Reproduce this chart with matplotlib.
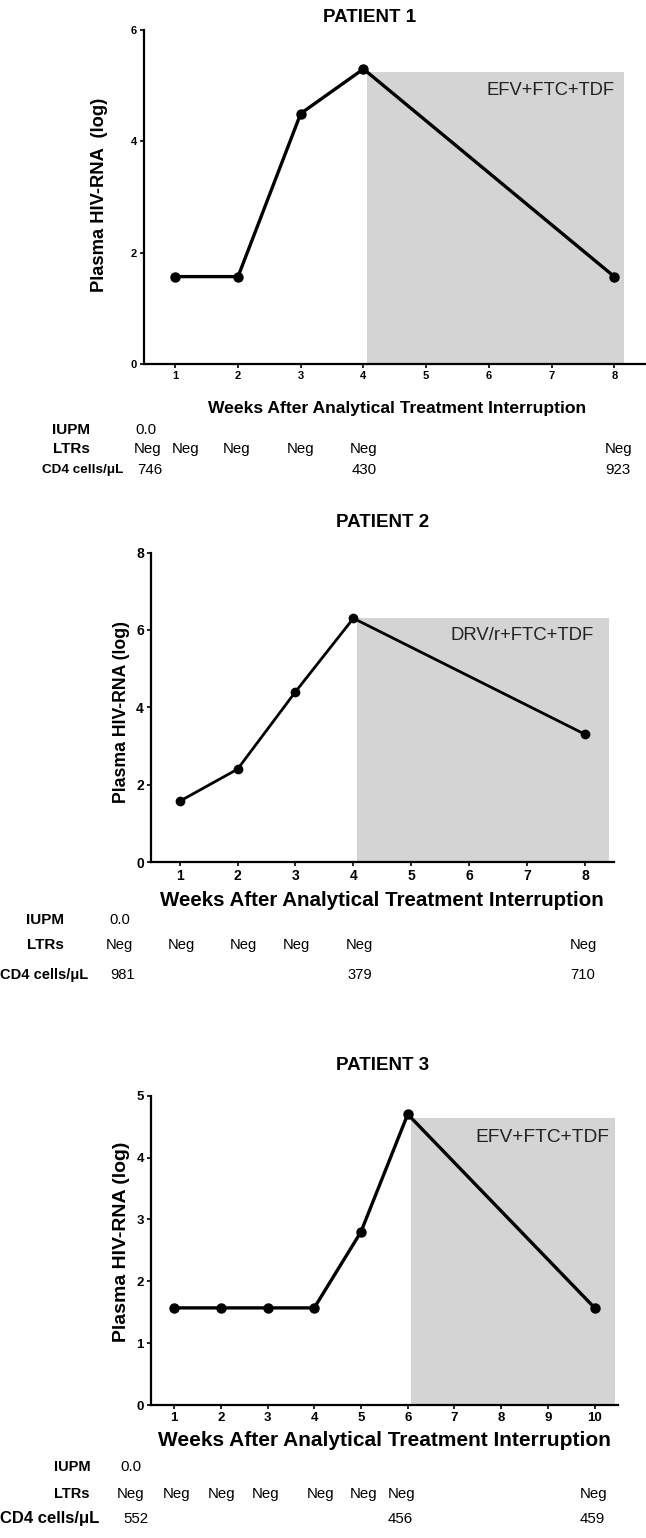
import matplotlib
matplotlib.use("Agg")
import matplotlib.pyplot as plt

plt.rcParams['font.family'] = ['Liberation Sans', 'DejaVu Sans']

# ---------------- data ----------------
p1_weeks = ['1', '2', '3', '4', '5', '6', '7', '8']
p1_obs_weeks = ['1', '2', '3', '4', '8']
p1_rna = [1.57, 1.57, 4.5, 5.3, 1.57]
p1_shade = [3.06, 7.16]
p1_shade_top = 5.25
p1_regimen = 'EFV+FTC+TDF'
p1_iupm = ['0.0']
p1_ltrs = ['Neg', 'Neg', 'Neg', 'Neg', 'Neg', 'Neg']
p1_cd4 = ['746', '430', '923']

p2_weeks = ['1', '2', '3', '4', '5', '6', '7', '8']
p2_obs_weeks = ['1', '2', '3', '4', '8']
p2_rna = [1.57, 2.4, 4.4, 6.3, 3.3]
p2_shade = [3.06, 7.42]
p2_shade_top = 6.31
p2_regimen = 'DRV/r+FTC+TDF'
p2_iupm = ['0.0']
p2_ltrs = ['Neg', 'Neg', 'Neg', 'Neg', 'Neg', 'Neg']
p2_cd4 = ['981', '379', '710']

p3_weeks = ['1', '2', '3', '4', '5', '6', '7', '8', '9', '10']
p3_obs_weeks = ['1', '2', '3', '4', '5', '6', '10']
p3_rna = [1.57, 1.57, 1.57, 1.57, 2.8, 4.7, 1.57]
p3_shade = [5.07, 9.43]
p3_shade_top = 4.64
p3_regimen = 'EFV+FTC+TDF'
p3_iupm = ['0.0']
p3_ltrs = ['Neg', 'Neg', 'Neg', 'Neg', 'Neg', 'Neg', 'Neg', 'Neg']
p3_cd4 = ['552', '456', '459']

titles = ['PATIENT 1', 'PATIENT 2', 'PATIENT 3']
ylabels = ['Plasma HIV-RNA  (log)', 'Plasma HIV-RNA (log)', 'Plasma HIV-RNA (log)']
xlabel = 'Weeks After Analytical Treatment Interruption'
row_labels = ['IUPM', 'LTRs', 'CD4 cells/\u03bcL']

# ---------------- layout (pixels) ----------------
W, H = 646, 1538
fig = plt.figure(figsize=(W / 100, H / 100), dpi=100)


def pt(px):
    return px * 72 / 100


def ftext(x, y, s, **kw):
    return fig.text(x / W, 1 - y / H, s, **kw)


panels = [
    dict(weeks=p1_weeks, obs=p1_obs_weeks, rna=p1_rna, shade=p1_shade, shade_top=p1_shade_top,
         regimen=p1_regimen, iupm=p1_iupm, ltrs=p1_ltrs, cd4=p1_cd4, title=titles[0], ylabel=ylabels[0],
         ax=(144, 30, 645.6, 364), ymax=6, ystep=2, tick_fs=8, lw=2.4, ms=6.5,
         title_xy=(370, 17), ylab_xy=(100, 195), ylab_fs=13.2, xlab_xy=(397, 409), xlab_fs=12.6,
         reg_xy=(7.0, 4.92), reg_fs=13.2,
         lab_x=71, cd4lab_x=42, lab_fs=11, cd4lab_fs=9.7, val_fs=10.8,
         rows_y=(430, 449, 470), iupm_x=[135], ltr_x=[134, 172, 223, 287, 350, 605], cd4_x=[137, 352, 605]),
    dict(weeks=p2_weeks, obs=p2_obs_weeks, rna=p2_rna, shade=p2_shade, shade_top=p2_shade_top,
         regimen=p2_regimen, iupm=p2_iupm, ltrs=p2_ltrs, cd4=p2_cd4, title=titles[1], ylabel=ylabels[1],
         ax=(150.7, 552.5, 614, 862), ymax=8, ystep=2, tick_fs=10, lw=2.0, ms=6,
         title_xy=(383, 523), ylab_xy=(122, 712), ylab_fs=12.7, xlab_xy=(382, 900), xlab_fs=14.8,
         reg_xy=(7.15, 5.85), reg_fs=13.3,
         lab_x=45, cd4lab_x=0, lab_fs=11, cd4lab_fs=10.5, val_fs=10.6,
         rows_y=(920, 945, 975), iupm_x=[109], ltr_x=[106, 168, 230, 283, 346, 570], cd4_x=[110, 347, 570]),
    dict(weeks=p3_weeks, obs=p3_obs_weeks, rna=p3_rna, shade=p3_shade, shade_top=p3_shade_top,
         regimen=p3_regimen, iupm=p3_iupm, ltrs=p3_ltrs, cd4=p3_cd4, title=titles[2], ylabel=ylabels[2],
         ax=(150.7, 1095.7, 618, 1405), ymax=5, ystep=1, tick_fs=9.5, lw=2.4, ms=6.5,
         title_xy=(383, 1066), ylab_xy=(122, 1242), ylab_fs=14, xlab_xy=(384, 1441), xlab_fs=15,
         reg_xy=(9.31, 4.33), reg_fs=13.8,
         lab_x=72, cd4lab_x=0, lab_fs=10.5, cd4lab_fs=12, val_fs=10.8,
         rows_y=(1467, 1494, 1519), iupm_x=[120], ltr_x=[117, 163, 208, 252, 307, 350, 388, 580],
         cd4_x=[123, 388, 580]),
]

for p in panels:
    l, t, r, b = p['ax']
    ax = fig.add_axes([l / W, 1 - b / H, (r - l) / W, (b - t) / H])
    n = len(p['weeks'])
    xi = [p['weeks'].index(w) for w in p['obs']]
    ax.fill_between(p['shade'], [0, 0], [p['shade_top'], p['shade_top']], color='#d4d4d4', lw=0, zorder=1)
    ax.plot(xi, p['rna'], '-o', color='black', lw=p['lw'], ms=p['ms'], zorder=3, clip_on=False)
    ax.text(p['reg_xy'][0], p['reg_xy'][1], p['regimen'], ha='right', va='center', fontsize=p['reg_fs'],
            color='#222222', zorder=4)
    ax.set_xlim(-0.5, n - 0.5)
    ax.set_ylim(0, p['ymax'])
    ax.set_xticks(range(n))
    ax.set_xticklabels(p['weeks'])
    ax.set_yticks(range(0, p['ymax'] + 1, p['ystep']))
    for s in ['top', 'right']:
        ax.spines[s].set_visible(False)
    for s in ['left', 'bottom']:
        ax.spines[s].set_linewidth(1.6)
    ax.tick_params(direction='out', length=3, width=1.2, pad=2, labelsize=p['tick_fs'])
    for lab in ax.get_xticklabels() + ax.get_yticklabels():
        lab.set_fontweight('bold')
    ax.patch.set_visible(False)

    ftext(p['title_xy'][0], p['title_xy'][1], p['title'], ha='center', va='center',
          fontsize=13.5, fontweight='bold')
    ftext(p['ylab_xy'][0], p['ylab_xy'][1], p['ylabel'], ha='center', va='center', rotation=90,
          fontsize=p['ylab_fs'], fontweight='bold')
    ftext(p['xlab_xy'][0], p['xlab_xy'][1], xlabel, ha='center', va='center',
          fontsize=p['xlab_fs'], fontweight='bold')

    y_iupm, y_ltr, y_cd4 = p['rows_y']
    ftext(p['lab_x'], y_iupm, row_labels[0], ha='center', va='center', fontsize=p['lab_fs'], fontweight='bold')
    ftext(p['lab_x'], y_ltr, row_labels[1], ha='center', va='center', fontsize=p['lab_fs'], fontweight='bold')
    ftext(p['cd4lab_x'], y_cd4, row_labels[2], ha='left', va='center', fontsize=p['cd4lab_fs'],
          fontweight='bold')
    for x, s in zip(p['iupm_x'], p['iupm']):
        ftext(x, y_iupm, s, ha='left', va='center', fontsize=p['val_fs'])
    for x, s in zip(p['ltr_x'], p['ltrs']):
        ftext(x, y_ltr, s, ha='left', va='center', fontsize=p['val_fs'])
    for x, s in zip(p['cd4_x'], p['cd4']):
        ftext(x, y_cd4, s, ha='left', va='center', fontsize=p['val_fs'])

fig.savefig('out.png', dpi=100, facecolor='white')
